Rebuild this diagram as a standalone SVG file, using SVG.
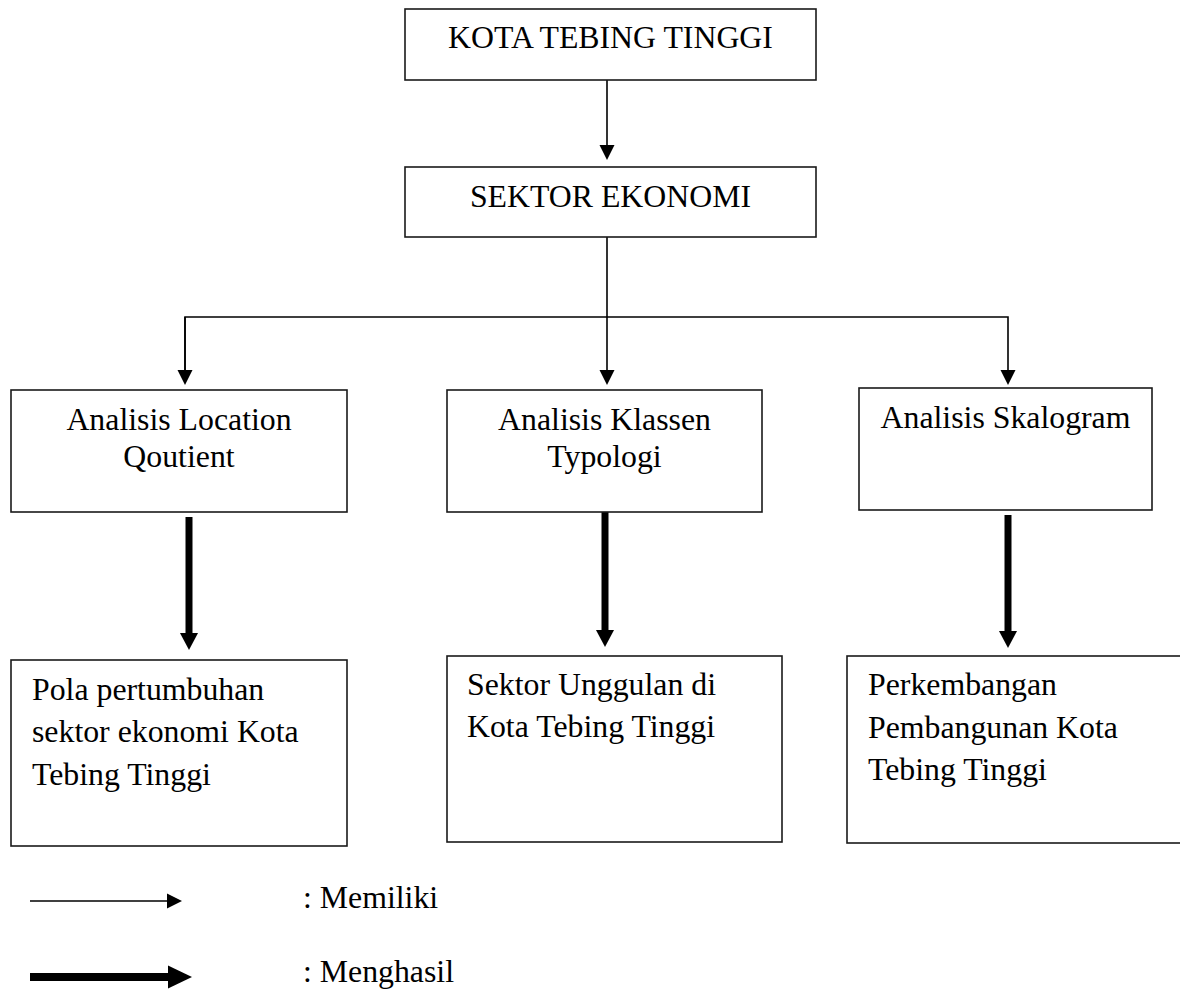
<svg xmlns="http://www.w3.org/2000/svg" width="1180" height="990" viewBox="0 0 1180 990">
<style>
.box{fill:#fff;stroke:#1a1a1a;stroke-width:1.6}
.t{font-family:"Liberation Serif","Times New Roman",serif;font-size:31.8px;fill:#000}
.c{text-anchor:middle}
.thin{stroke:#000;stroke-width:1.6;fill:none}
.thick{stroke:#000;stroke-width:7;fill:none}
</style>
<defs>
<marker id="ah" markerUnits="userSpaceOnUse" markerWidth="17" markerHeight="17" refX="0" refY="7.5" orient="auto" overflow="visible"><path d="M0,0 L15,7.5 L0,15 z" fill="#000"/></marker>
<marker id="ahT" markerUnits="userSpaceOnUse" markerWidth="19" markerHeight="20" refX="0" refY="9" orient="auto" overflow="visible"><path d="M0,0 L17,9 L0,18 z" fill="#000"/></marker>
<marker id="ahL" markerUnits="userSpaceOnUse" markerWidth="26" markerHeight="25" refX="0" refY="11.5" orient="auto" overflow="visible"><path d="M0,0 L24,11.5 L0,23 z" fill="#000"/></marker>
</defs>
<rect width="1180" height="990" fill="#fff"/>
<g id="connectors">
<line class="thin" x1="607" y1="80" x2="607" y2="145" marker-end="url(#ah)"/>
<polyline class="thin" points="607,237 607,317"/>
<polyline class="thin" points="185,370 185,317 1008,317 1008,370" marker-end="url(#ah)"/>
<line class="thin" x1="185" y1="317" x2="185" y2="370" marker-end="url(#ah)"/>
<line class="thin" x1="607" y1="317" x2="607" y2="370" marker-end="url(#ah)"/>
<line class="thick" x1="189" y1="517" x2="189" y2="633" marker-end="url(#ahT)"/>
<line class="thick" x1="605" y1="512" x2="605" y2="630" marker-end="url(#ahT)"/>
<line class="thick" x1="1008" y1="515" x2="1008" y2="631" marker-end="url(#ahT)"/>
</g>
<g id="kota"><rect class="box" x="405" y="9" width="411" height="71"/><text class="t c" x="610.5" y="48">KOTA TEBING TINGGI</text></g>
<g id="sektor"><rect class="box" x="405" y="167" width="411" height="70"/><text class="t c" x="610.5" y="207">SEKTOR EKONOMI</text></g>
<g id="lq"><rect class="box" x="11" y="390" width="336" height="122"/><text class="t c" x="179" y="430">Analisis Location</text><text class="t c" x="179" y="467">Qoutient</text></g>
<g id="klassen"><rect class="box" x="447" y="390" width="315" height="122"/><text class="t c" x="604.5" y="430">Analisis Klassen</text><text class="t c" x="604.5" y="467">Typologi</text></g>
<g id="skalogram"><rect class="box" x="859" y="388" width="293" height="122"/><text class="t c" x="1005.5" y="428">Analisis Skalogram</text></g>
<g id="pola"><rect class="box" x="11" y="660" width="336" height="186"/><text class="t" x="32" y="700">Pola pertumbuhan</text><text class="t" x="32" y="742">sektor ekonomi Kota</text><text class="t" x="32" y="785">Tebing Tinggi</text></g>
<g id="unggulan"><rect class="box" x="447" y="656" width="335" height="186"/><text class="t" x="467" y="695">Sektor Unggulan di</text><text class="t" x="467" y="737">Kota Tebing Tinggi</text></g>
<g id="perkembangan"><rect class="box" x="847" y="656" width="345" height="187"/><text class="t" x="868" y="695">Perkembangan</text><text class="t" x="868" y="738">Pembangunan Kota</text><text class="t" x="868" y="780">Tebing Tinggi</text></g>
<g id="legend">
<line class="thin" x1="30" y1="901" x2="167" y2="901" marker-end="url(#ah)"/>
<line stroke="#000" stroke-width="8" x1="30" y1="977" x2="168" y2="977" marker-end="url(#ahL)"/>
<text class="t" x="303" y="908">: Memiliki</text>
<text class="t" x="303" y="982">: Menghasil</text>
</g>
</svg>
